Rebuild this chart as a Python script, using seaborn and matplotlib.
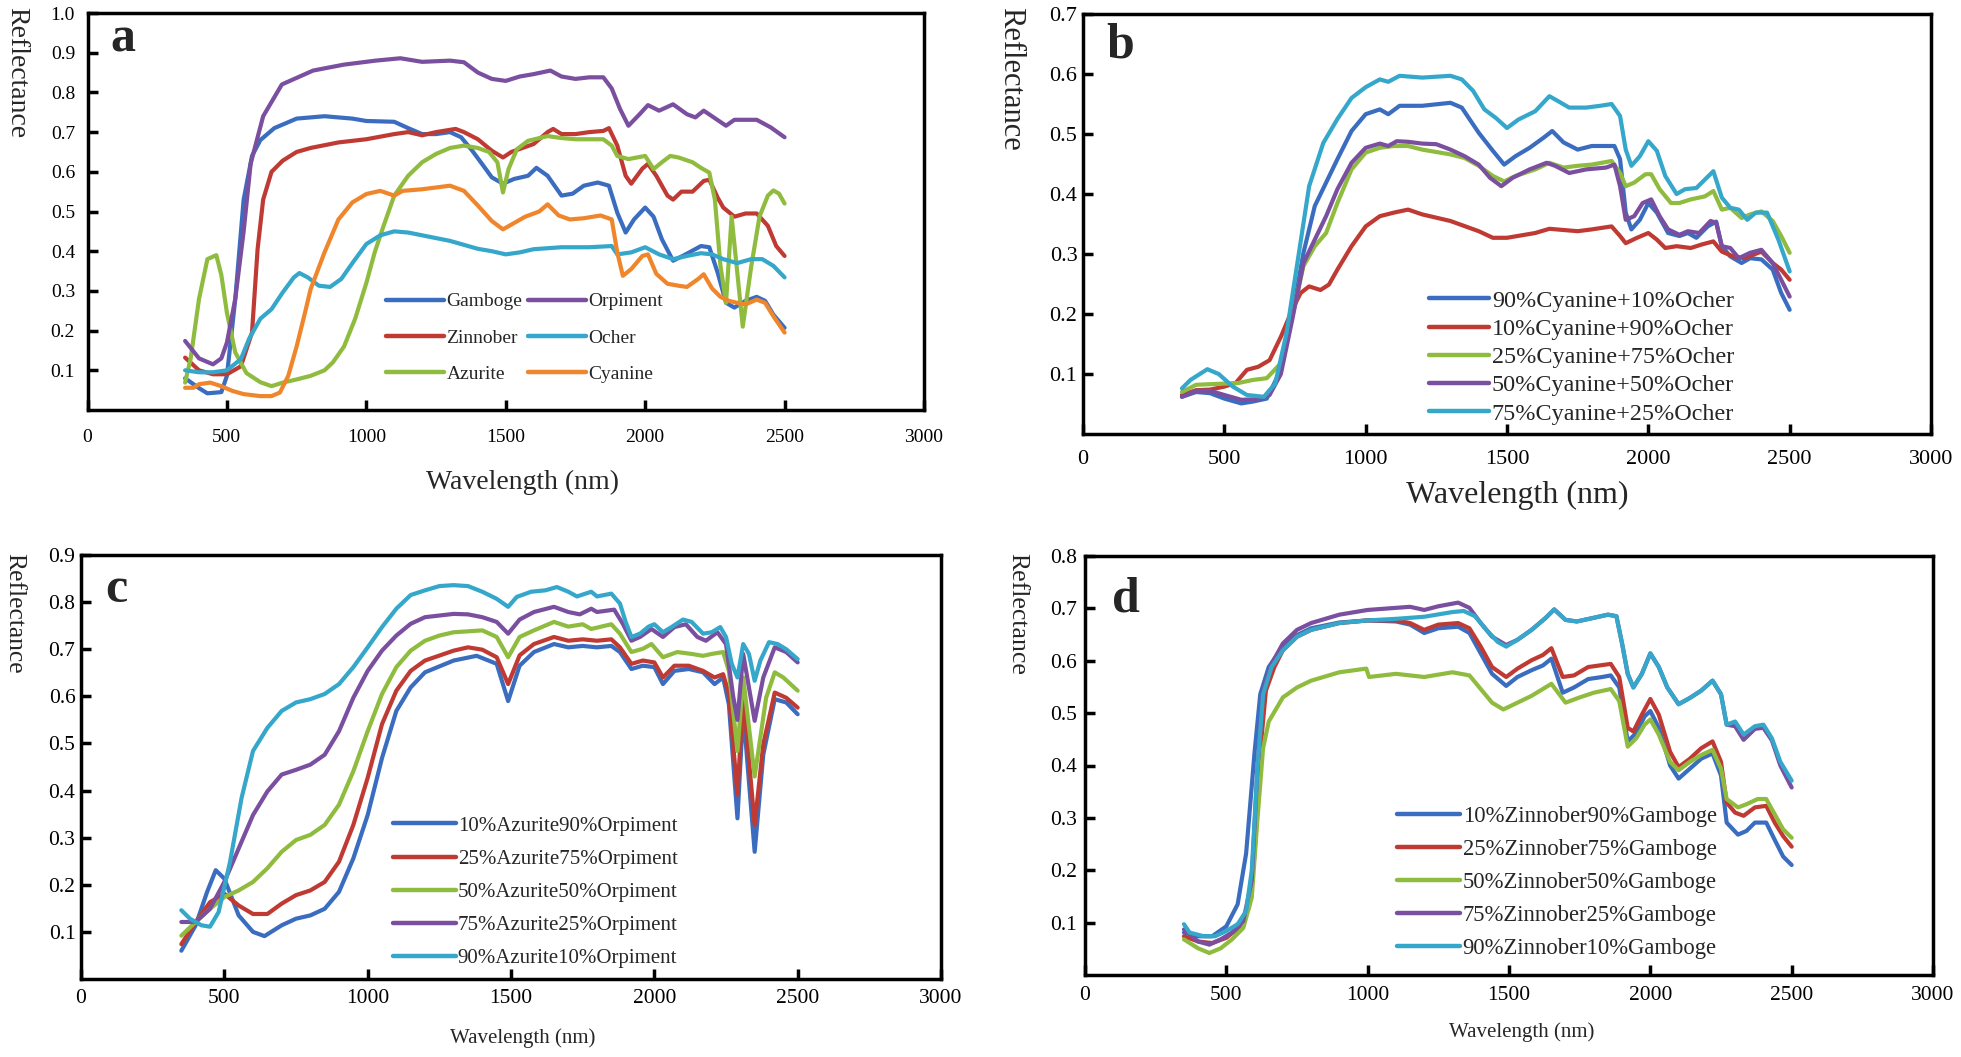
import matplotlib
matplotlib.use('Agg')
import matplotlib.pyplot as plt
from matplotlib.lines import Line2D
import pandas as pd
import seaborn as sns

# ---------------- data: (wavelength nm, reflectance) ----------------
# Panel a: pure pigments
a_gamboge = [(350,.08),(400,.055),(430,.042),(480,.045),(500,.086),(530,.28),(560,.53),(590,.64),(620,.68),(670,.71),
             (750,.734),(850,.74),(950,.734),(1000,.728),(1100,.726),(1150,.71),(1200,.695),(1250,.695),(1300,.70),(1340,.687),
             (1380,.653),(1420,.615),(1450,.586),(1490,.57),(1530,.582),(1580,.59),(1610,.61),(1650,.59),(1700,.54),(1740,.545),
             (1780,.565),(1830,.573),(1870,.565),(1900,.497),(1930,.447),(1960,.48),(2000,.51),(2030,.487),(2060,.43),(2100,.376),
             (2140,.39),(2200,.413),(2230,.41),(2260,.346),(2290,.27),(2320,.258),(2360,.275),(2400,.285),(2430,.275),(2460,.24),(2500,.207)]
a_orpiment = [(350,.174),(400,.13),(450,.115),(480,.13),(500,.17),(530,.28),(560,.45),(585,.62),(630,.74),(697,.82),
              (809,.855),(920,.87),(1033,.88),(1122,.886),(1200,.877),(1300,.88),(1350,.876),(1400,.85),(1450,.834),(1500,.829),
              (1550,.84),(1600,.846),(1660,.855),(1700,.84),(1750,.834),(1800,.838),(1850,.838),(1880,.81),(1910,.758),(1940,.716),
              (1980,.745),(2010,.768),(2050,.754),(2100,.77),(2150,.745),(2180,.737),(2210,.754),(2250,.735),(2290,.716),(2320,.731),
              (2400,.731),(2450,.712),(2500,.687)]
a_zinnober = [(350,.132),(400,.10),(450,.09),(500,.09),(550,.11),(590,.195),(610,.405),(630,.53),(660,.60),(700,.628),
              (750,.65),(800,.66),(900,.674),(1000,.682),(1100,.695),(1150,.70),(1200,.692),(1250,.70),(1320,.708),(1350,.70),
              (1400,.682),(1450,.653),(1490,.636),(1520,.65),(1560,.66),(1600,.67),(1650,.70),(1670,.708),(1700,.695),(1750,.695),
              (1800,.70),(1850,.703),(1870,.71),(1900,.666),(1930,.59),(1950,.57),(1990,.608),(2010,.62),(2040,.59),(2080,.54),
              (2100,.53),(2130,.55),(2170,.55),(2210,.577),(2230,.58),(2260,.535),(2280,.51),(2320,.487),(2360,.495),(2400,.495),
              (2440,.464),(2470,.413),(2500,.388)]
a_ocher = [(350,.10),(400,.095),(450,.095),(500,.10),(550,.128),(580,.18),(620,.23),(660,.254),(700,.296),(740,.334),
           (760,.345),(790,.334),(830,.313),(870,.31),(910,.33),(950,.37),(1000,.418),(1050,.44),(1100,.45),(1150,.447),
           (1200,.44),(1300,.426),(1400,.406),(1450,.40),(1500,.392),(1550,.397),(1600,.405),(1700,.41),(1800,.41),(1880,.413),
           (1900,.392),(1950,.397),(2000,.41),(2050,.392),(2100,.38),(2150,.388),(2200,.395),(2240,.392),(2280,.38),(2330,.37),
           (2380,.38),(2420,.38),(2460,.363),(2500,.334)]
a_azurite = [(350,.069),(370,.13),(400,.28),(430,.38),(462,.39),(480,.34),(500,.245),(530,.145),(570,.093),(620,.07),
             (660,.06),(700,.069),(750,.077),(800,.086),(850,.10),(880,.12),(920,.16),(960,.23),(1000,.32),(1030,.397),
             (1060,.46),(1100,.54),(1150,.59),(1200,.624),(1250,.645),(1300,.66),(1350,.666),(1400,.66),(1440,.65),(1470,.624),
             (1490,.548),(1510,.607),(1540,.657),(1580,.678),(1650,.69),(1700,.685),(1750,.682),(1850,.682),(1880,.666),(1900,.64),
             (1940,.632),(1970,.636),(2000,.64),(2030,.607),(2060,.624),(2090,.64),(2120,.636),(2170,.624),(2200,.61),(2230,.598),
             (2250,.53),(2270,.363),(2290,.27),(2310,.487),(2350,.21),(2380,.36),(2410,.487),(2440,.54),(2460,.553),(2480,.545),(2500,.52)]
a_cyanine = [(350,.056),(380,.056),(400,.065),(440,.069),(480,.06),(520,.048),(560,.04),(620,.035),(660,.035),(690,.044),
             (720,.086),(750,.16),(780,.245),(800,.304),(850,.397),(900,.48),(950,.523),(1000,.544),(1050,.552),(1100,.54),
             (1130,.552),(1200,.556),(1300,.565),(1350,.552),(1400,.515),(1450,.476),(1490,.455),(1520,.467),(1570,.487),(1620,.50),
             (1650,.518),(1690,.49),(1730,.48),(1780,.483),(1840,.49),(1880,.48),(1900,.397),(1920,.338),(1950,.355),(1990,.388),
             (2010,.392),(2040,.343),(2080,.318),(2120,.313),(2150,.31),(2190,.33),(2210,.342),(2240,.306),(2270,.285),(2300,.275),
             (2330,.27),(2360,.266),(2400,.278),(2430,.27),(2460,.236),(2500,.195)]

# Panel b: Cyanine + Ocher mixtures
b_c90 = [(350,.062),(400,.07),(450,.068),(500,.059),(560,.051),(600,.054),(650,.059),(700,.107),(740,.196),(780,.302),
         (820,.38),(860,.419),(900,.458),(950,.505),(1000,.533),(1050,.541),(1080,.533),(1120,.547),(1200,.547),(1300,.552),
         (1340,.544),(1400,.502),(1450,.472),(1490,.449),(1530,.463),(1580,.477),(1630,.494),(1660,.505),(1700,.486),(1750,.474),
         (1800,.48),(1850,.48),(1880,.48),(1900,.458),(1920,.369),(1940,.341),(1970,.357),(2000,.385),(2030,.369),(2070,.335),
         (2110,.33),(2140,.335),(2170,.327),(2210,.346),(2240,.354),(2260,.313),(2290,.296),(2330,.285),(2360,.293),(2400,.291),
         (2440,.274),(2470,.235),(2500,.207)]
b_c10 = [(350,.065),(400,.073),(450,.074),(500,.079),(540,.085),(580,.107),(620,.112),(660,.123),(700,.162),(740,.207),
         (770,.235),(800,.246),(840,.24),(870,.249),(900,.274),(950,.313),(1000,.346),(1050,.363),(1100,.369),(1150,.374),
         (1200,.366),(1300,.355),(1400,.338),(1450,.327),(1500,.327),(1600,.335),(1650,.342),(1700,.34),(1750,.338),(1800,.341),
         (1870,.346),(1900,.33),(1920,.318),(1960,.327),(2000,.335),(2030,.324),(2060,.31),(2100,.313),(2150,.31),(2190,.316),
         (2230,.321),(2260,.304),(2300,.296),(2340,.293),(2400,.304),(2440,.285),(2470,.274),(2500,.257)]
b_c25 = [(350,.07),(400,.082),(450,.083),(500,.084),(550,.085),(600,.09),(650,.093),(700,.118),(740,.196),(780,.28),
         (820,.313),(860,.335),(900,.385),(950,.441),(1000,.469),(1050,.477),(1100,.48),(1150,.48),(1200,.474),(1300,.466),
         (1350,.46),(1400,.447),(1450,.43),(1490,.421),(1530,.43),(1600,.441),(1650,.452),(1700,.444),(1750,.447),(1800,.449),
         (1870,.455),(1900,.435),(1920,.413),(1950,.419),(1990,.433),(2010,.433),(2040,.408),(2080,.385),(2110,.385),(2150,.391),
         (2200,.396),(2230,.405),(2260,.374),(2290,.377),(2330,.36),(2360,.366),(2400,.371),(2440,.355),(2470,.33),(2500,.302)]
b_c50 = [(350,.062),(400,.072),(450,.072),(500,.065),(560,.057),(620,.058),(660,.065),(700,.10),(740,.19),(780,.285),
         (820,.324),(860,.363),(900,.408),(950,.452),(1000,.477),(1050,.484),(1080,.48),(1110,.488),(1150,.487),(1200,.484),
         (1250,.483),(1300,.474),(1350,.463),(1400,.449),(1440,.427),(1480,.413),(1520,.427),(1580,.441),(1640,.452),(1670,.447),
         (1720,.435),(1780,.441),(1850,.444),(1880,.449),(1900,.413),(1920,.357),(1950,.363),(1980,.385),(2010,.391),(2040,.363),
         (2070,.341),(2110,.332),(2140,.338),(2180,.335),(2220,.355),(2240,.352),(2260,.313),(2290,.31),(2320,.293),(2360,.302),
         (2400,.307),(2440,.285),(2470,.257),(2500,.229)]
b_c75 = [(350,.076),(380,.09),(440,.108),(480,.10),(530,.079),(580,.065),(640,.062),(680,.084),(720,.168),(760,.29),
         (800,.413),(850,.485),(900,.525),(950,.56),(1000,.578),(1050,.591),(1080,.587),(1120,.597),(1200,.594),(1300,.597),
         (1340,.591),(1380,.572),(1420,.541),(1460,.527),(1500,.51),(1540,.524),(1600,.538),(1650,.563),(1680,.555),(1720,.544),
         (1780,.544),(1830,.547),(1870,.55),(1900,.53),(1920,.474),(1940,.447),(1970,.463),(2000,.488),(2030,.472),(2060,.43),
         (2100,.40),(2130,.408),(2170,.41),(2200,.424),(2230,.438),(2260,.394),(2290,.377),(2320,.374),(2350,.357),(2380,.369),
         (2420,.369),(2460,.324),(2500,.271)]

# Panel c: Azurite + Orpiment mixtures
c_a10 = [(350,.06),(400,.114),(440,.185),(470,.231),(500,.213),(550,.135),(600,.10),(640,.091),(700,.114),(750,.128),
         (800,.135),(850,.149),(900,.185),(950,.256),(1000,.348),(1050,.469),(1100,.569),(1150,.619),(1200,.651),(1300,.676),
         (1380,.686),(1450,.669),(1490,.59),(1530,.665),(1580,.694),(1650,.711),(1700,.704),(1750,.707),(1800,.704),(1850,.707),
         (1880,.694),(1920,.658),(1960,.665),(2000,.662),(2030,.626),(2070,.654),(2120,.658),(2170,.651),(2210,.626),(2240,.64),
         (2260,.583),(2290,.341),(2310,.569),(2350,.27),(2380,.476),(2420,.594),(2460,.587),(2500,.562)]
c_a25 = [(350,.074),(400,.121),(450,.163),(500,.181),(550,.156),(600,.138),(650,.138),(700,.16),(750,.178),(800,.188),
         (850,.206),(900,.249),(950,.327),(1000,.427),(1050,.541),(1100,.612),(1150,.654),(1200,.676),(1300,.697),(1350,.704),
         (1400,.699),(1450,.683),(1490,.626),(1530,.687),(1580,.711),(1650,.726),(1700,.718),(1750,.721),(1800,.718),(1850,.721),
         (1880,.704),(1920,.669),(1960,.676),(2000,.672),(2030,.64),(2070,.665),(2120,.665),(2170,.654),(2210,.64),(2240,.647),
         (2260,.605),(2290,.391),(2310,.605),(2350,.327),(2380,.498),(2420,.608),(2460,.597),(2500,.576)]
c_a50 = [(350,.092),(400,.121),(450,.149),(500,.174),(550,.188),(600,.206),(650,.235),(700,.27),(750,.295),(800,.306),
         (850,.327),(900,.37),(950,.441),(1000,.526),(1050,.605),(1100,.662),(1150,.697),(1200,.718),(1250,.729),(1300,.736),
         (1400,.74),(1450,.726),(1490,.683),(1530,.726),(1580,.74),(1650,.758),(1700,.748),(1750,.753),(1780,.743),(1850,.753),
         (1880,.733),(1920,.694),(1960,.701),(1990,.711),(2030,.683),(2080,.694),(2130,.69),(2170,.686),(2200,.69),(2240,.694),
         (2260,.654),(2290,.484),(2310,.64),(2350,.43),(2390,.597),(2420,.651),(2450,.64),(2500,.612)]
c_a75 = [(350,.121),(400,.121),(450,.149),(500,.206),(550,.277),(600,.348),(650,.398),(700,.434),(750,.444),(800,.455),
         (850,.476),(900,.526),(950,.597),(1000,.654),(1050,.697),(1100,.729),(1150,.754),(1200,.768),(1300,.775),(1350,.774),
         (1400,.768),(1450,.758),(1490,.733),(1530,.763),(1580,.779),(1650,.79),(1700,.779),(1740,.774),(1780,.786),(1800,.779),
         (1860,.784),(1890,.754),(1920,.718),(1950,.726),(1990,.743),(2030,.726),(2070,.747),(2110,.753),(2150,.726),(2180,.718),
         (2220,.736),(2250,.711),(2275,.6),(2290,.55),(2310,.69),(2350,.548),(2380,.64),(2420,.704),(2460,.694),(2500,.672)]
c_a90 = [(350,.146),(380,.128),(420,.114),(450,.111),(480,.142),(520,.249),(560,.384),(600,.484),(650,.533),(700,.569),
         (750,.587),(800,.594),(850,.605),(900,.626),(950,.662),(1000,.704),(1050,.747),(1100,.786),(1150,.815),(1200,.825),
         (1250,.834),(1300,.836),(1350,.834),(1400,.822),(1450,.807),(1490,.79),(1520,.811),(1570,.822),(1620,.825),(1660,.832),
         (1700,.822),(1730,.812),(1780,.822),(1800,.812),(1850,.818),(1880,.797),(1900,.758),(1920,.726),(1950,.733),(1980,.748),
         (2000,.753),(2030,.736),(2060,.747),(2100,.763),(2130,.758),(2170,.733),(2200,.736),(2230,.747),(2250,.726),(2270,.669),
         (2290,.64),(2310,.711),(2330,.69),(2350,.633),(2370,.676),(2400,.715),(2430,.711),(2460,.70),(2500,.679)]

# Panel d: Zinnober + Gamboge mixtures
d_z10 = [(350,.081),(400,.074),(450,.074),(500,.093),(540,.135),(570,.232),(600,.426),(620,.536),(650,.588),(700,.627),
         (750,.649),(800,.662),(900,.673),(1000,.677),(1100,.675),(1150,.669),(1200,.653),(1250,.662),(1320,.665),(1360,.653),
         (1400,.614),(1440,.575),(1490,.552),(1530,.569),(1580,.582),(1620,.591),(1650,.604),(1690,.539),(1730,.549),(1780,.565),
         (1830,.569),(1860,.572),(1890,.549),(1920,.446),(1950,.462),(1980,.494),(2000,.504),(2030,.472),(2070,.40),(2100,.375),
         (2140,.394),(2180,.413),(2220,.423),(2250,.381),(2270,.291),(2310,.268),(2340,.275),(2370,.291),(2410,.291),(2440,.258),
         (2470,.226),(2500,.21)]
d_z25 = [(350,.074),(400,.064),(450,.061),(500,.071),(550,.093),(580,.129),(600,.233),(620,.427),(640,.543),(670,.588),
         (700,.62),(750,.646),(800,.659),(900,.672),(1000,.677),(1100,.677),(1150,.672),(1200,.659),(1250,.669),(1320,.672),
         (1360,.662),(1400,.627),(1440,.588),(1490,.569),(1530,.585),(1580,.601),(1620,.611),(1650,.624),(1690,.569),(1730,.572),
         (1780,.588),(1820,.591),(1860,.594),(1890,.569),(1920,.472),(1940,.465),(1970,.497),(2000,.527),(2030,.497),(2070,.426),
         (2100,.397),(2140,.413),(2180,.433),(2220,.446),(2250,.407),(2270,.329),(2300,.31),(2330,.304),(2370,.32),(2410,.323),
         (2440,.291),(2470,.265),(2500,.245)]
d_z50 = [(350,.068),(400,.051),(440,.042),(480,.051),(520,.068),(560,.09),(590,.148),(610,.297),(630,.433),(650,.484),
         (700,.53),(750,.549),(800,.562),(900,.578),(995,.585),(1005,.569),(1100,.575),(1200,.569),(1300,.578),(1360,.572),
         (1400,.546),(1440,.52),(1480,.507),(1530,.52),(1580,.533),(1650,.556),(1700,.52),(1750,.53),(1800,.539),(1860,.546),
         (1890,.523),(1920,.436),(1950,.452),(1980,.478),(2000,.488),(2030,.459),(2070,.407),(2100,.391),(2140,.407),(2180,.42),
         (2220,.43),(2250,.394),(2270,.336),(2310,.32),(2340,.326),(2380,.336),(2410,.336),(2440,.307),(2470,.278),(2500,.262)]
d_z75 = [(350,.087),(400,.064),(440,.058),(480,.068),(520,.081),(560,.103),(590,.181),(610,.394),(630,.543),(660,.594),
         (700,.633),(750,.659),(800,.672),(900,.688),(1000,.697),(1100,.701),(1150,.703),(1200,.697),(1250,.704),(1320,.711),
         (1360,.701),(1400,.672),(1440,.646),(1490,.63),(1530,.64),(1580,.659),(1630,.682),(1660,.698),(1700,.678),(1740,.675),
         (1800,.682),(1850,.688),(1880,.685),(1900,.633),(1920,.575),(1940,.549),(1970,.575),(2000,.614),(2030,.588),(2060,.549),
         (2100,.517),(2140,.529),(2180,.543),(2220,.562),(2250,.536),(2270,.478),(2300,.475),(2330,.449),(2370,.47),(2400,.472),
         (2430,.448),(2460,.40),(2500,.358)]
d_z90 = [(350,.097),(370,.081),(420,.074),(460,.074),(500,.084),(540,.097),(570,.122),(590,.20),(610,.394),(630,.536),
         (660,.588),(700,.62),(750,.646),(800,.659),(900,.672),(1000,.677),(1100,.68),(1200,.684),(1300,.693),(1340,.695),
         (1380,.685),(1420,.659),(1460,.636),(1490,.627),(1530,.64),(1580,.659),(1630,.682),(1660,.698),(1700,.678),(1740,.675),
         (1800,.682),(1850,.688),(1880,.685),(1900,.633),(1920,.575),(1940,.549),(1970,.575),(2000,.614),(2030,.588),(2060,.549),
         (2100,.517),(2140,.529),(2180,.543),(2220,.562),(2250,.536),(2270,.478),(2300,.484),(2330,.459),(2370,.475),(2400,.478),
         (2430,.452),(2460,.407),(2500,.371)]

x_ticks = [0, 500, 1000, 1500, 2000, 2500, 3000]
a_yticks = [0.1, 0.2, 0.3, 0.4, 0.5, 0.6, 0.7, 0.8, 0.9, 1.0]
b_yticks = [0.1, 0.2, 0.3, 0.4, 0.5, 0.6, 0.7]
c_yticks = [0.1, 0.2, 0.3, 0.4, 0.5, 0.6, 0.7, 0.8, 0.9]
d_yticks = [0.1, 0.2, 0.3, 0.4, 0.5, 0.6, 0.7, 0.8]

BLUE, RED, GREEN = '#3a6dbf', '#c03a34', '#8fbc3f'
PURPLE, CYAN, ORANGE = '#7a4fa0', '#35a7ca', '#f0862c'

panel_a = [("Gamboge", a_gamboge, BLUE), ("Zinnober", a_zinnober, RED), ("Azurite", a_azurite, GREEN),
           ("Orpiment", a_orpiment, PURPLE), ("Ocher", a_ocher, CYAN), ("Cyanine", a_cyanine, ORANGE)]
panel_b = [("90%Cyanine+10%Ocher", b_c90, BLUE), ("10%Cyanine+90%Ocher", b_c10, RED),
           ("25%Cyanine+75%Ocher", b_c25, GREEN), ("50%Cyanine+50%Ocher", b_c50, PURPLE),
           ("75%Cyanine+25%Ocher", b_c75, CYAN)]
panel_c = [("10%Azurite90%Orpiment", c_a10, BLUE), ("25%Azurite75%Orpiment", c_a25, RED),
           ("50%Azurite50%Orpiment", c_a50, GREEN), ("75%Azurite25%Orpiment", c_a75, PURPLE),
           ("90%Azurite10%Orpiment", c_a90, CYAN)]
panel_d = [("10%Zinnober90%Gamboge", d_z10, BLUE), ("25%Zinnober75%Gamboge", d_z25, RED),
           ("50%Zinnober50%Gamboge", d_z50, GREEN), ("75%Zinnober25%Gamboge", d_z75, PURPLE),
           ("90%Zinnober10%Gamboge", d_z90, CYAN)]

sns.set_theme(style='white')
plt.rcParams['font.family'] = ['Liberation Serif', 'DejaVu Serif']

W, H = 1961, 1057
fig = plt.figure(figsize=(W / 100, H / 100), dpi=100)


def px_rect(l, t, r, b):
    return [l / W, 1 - b / H, (r - l) / W, (b - t) / H]


def draw(rect, series, ymax, yticks, tick_fs, xpad, ypad, leg):
    ax = fig.add_axes(px_rect(*rect))
    frames = [pd.DataFrame(d, columns=['wl', 'r']).assign(name=n) for n, d, _ in series]
    df = pd.concat(frames, ignore_index=True)
    sns.lineplot(data=df, x='wl', y='r', hue='name', hue_order=[s[0] for s in series],
                 palette=[s[2] for s in series], estimator=None, sort=False,
                 lw=3.0, ax=ax, legend=False)
    ax.set_xlim(0, 3000)
    ax.set_ylim(0, ymax)
    ax.set_xticks(x_ticks)
    ax.set_xticklabels([str(v) for v in x_ticks])
    ax.set_yticks(yticks)
    ax.set_yticklabels([f'{v:.1f}' for v in yticks])
    ax.tick_params(axis='both', direction='in', length=7, width=2.5, bottom=True, left=True,
                   labelsize=tick_fs, colors='black')
    ax.tick_params(axis='x', pad=xpad)
    ax.tick_params(axis='y', pad=ypad)
    ax.set_xlabel('')
    ax.set_ylabel('')
    for s in ax.spines.values():
        s.set_linewidth(2.5)
        s.set_color('black')
    ax.set_facecolor('white')
    order, ncol, anchor, fs, lsp, hl, csp = leg
    handles = [Line2D([], [], color=series[i][2], lw=3.2) for i in order]
    labels = [series[i][0] for i in order]
    ax.legend(handles, labels, ncol=ncol, loc='upper left', bbox_to_anchor=anchor,
              frameon=False, fontsize=fs, handlelength=hl, handletextpad=0.1,
              labelspacing=lsp, columnspacing=csp, borderpad=0, borderaxespad=0)
    return ax


draw((87.5, 13, 924, 410), panel_a, 1.0, a_yticks, 14, 14, 9,
     ([0, 1, 2, 3, 4, 5], 2, (0.357, 0.295), 14, 0.95, 3.0, 0.3))
draw((1083, 14, 1931, 434), panel_b, 0.7, b_yticks, 16, 11.5, 4,
     ([0, 1, 2, 3, 4], 1, (0.408, 0.343), 17.4, 0.26, 2.5, 0.6))
draw((81, 555, 941, 979), panel_c, 0.9, c_yticks, 15.5, 7, 4,
     ([0, 1, 2, 3, 4], 1, (0.363, 0.384), 15, 0.65, 3.0, 0.6))
draw((1085, 556, 1933, 975), panel_d, 0.8, d_yticks, 15.5, 8, 6,
     ([0, 1, 2, 3, 4], 1, (0.368, 0.403), 16.3, 0.53, 2.8, 0.6))

# panel letters
for x, y, t in [(110, 52, 'a'), (1106, 57, 'b'), (105, 602, 'c'), (1112, 612, 'd')]:
    fig.text(x / W, 1 - y / H, t, fontsize=36, fontweight='bold', ha='left', va='baseline')

# y labels (rotated, reading downward)
for x, y, fs in [(17, 7, 20), (1011, 7, 22), (14, 553, 18.4), (1017, 553, 18.5)]:
    fig.text(x / W, 1 - y / H, 'Reflectance', rotation=270, fontsize=fs, ha='center', va='top')

# x labels
for x, y, fs in [(522, 482, 20), (1517, 495, 23), (523, 1038, 15), (1522, 1032, 15)]:
    fig.text(x / W, 1 - y / H, 'Wavelength (nm)', fontsize=fs, ha='center', va='center')

fig.savefig('out.png', dpi=100, facecolor='white')
